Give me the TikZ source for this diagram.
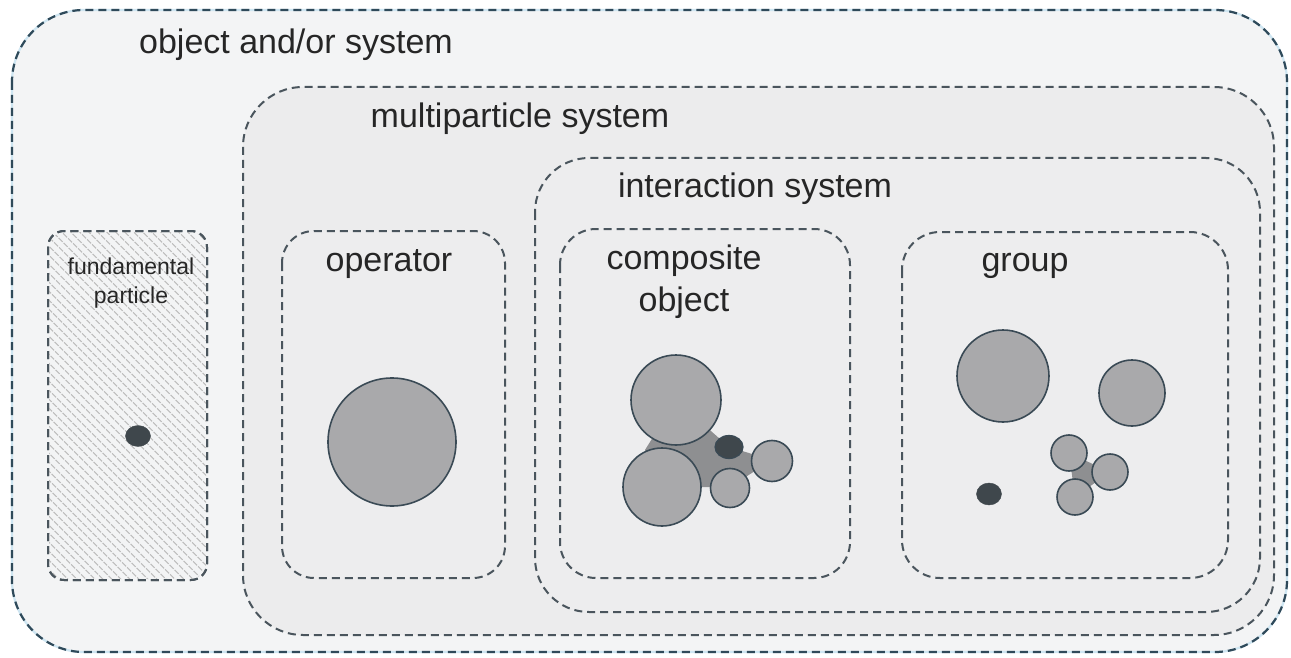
\documentclass[tikz,border=0pt]{standalone}
\usepackage{fontspec}
\setmainfont{Liberation Sans}
\usetikzlibrary{patterns.meta,shapes.geometric}
\definecolor{bgout}{HTML}{F3F4F5}
\definecolor{bgmid}{HTML}{ECECED}
\definecolor{bgin}{HTML}{EDEDEE}
\definecolor{dashc}{HTML}{4A555D}
\definecolor{circfill}{HTML}{A9A9AB}
\definecolor{circline}{HTML}{3A4A55}
\definecolor{darkdot}{HTML}{3F474C}
\definecolor{bridge}{HTML}{8E8F91}
\definecolor{txt}{HTML}{262626}
\definecolor{lblue}{HTML}{CFE6F2}
\definecolor{outerdash}{HTML}{2F4A5A}
\tikzset{
  dbox/.style={draw=dashc, line width=2pt, dash pattern=on 8pt off 5pt},
  ball/.style={circle, draw=circline, line width=1.6pt, fill=circfill, inner sep=0pt},
  dot/.style={ellipse, fill=darkdot, draw=darkdot, inner sep=0pt},
  lbl/.style={text=txt, inner sep=0pt, anchor=base, font=\fontsize{34}{34}\selectfont}
}
\begin{document}
\begin{tikzpicture}[x=1pt,y=-1pt]
\useasboundingbox (0,0) rectangle (1291,658);
\fill[white] (0,0) rectangle (1291,658);
% outer
\draw[fill=bgout, draw=lblue, line width=2.2pt, rounded corners=72pt] (12,10) rectangle (1287,652);
\draw[dbox, draw=outerdash, line width=2.2pt, rounded corners=72pt] (12,10) rectangle (1287,652);
% multiparticle
\draw[dbox, fill=bgmid, rounded corners=60pt] (243,87) rectangle (1274,635);
% interaction
\draw[dbox, fill=bgin, rounded corners=54pt] (535,158) rectangle (1260,612);
% fundamental
\draw[dbox, fill=bgout, rounded corners=16pt] (48,231) rectangle (207,580);
\fill[pattern={Lines[angle=-45,distance=6.5pt,line width=1.3pt]}, pattern color=gray!50, rounded corners=16pt] (49,232) rectangle (206,579);
\draw[dbox, rounded corners=16pt] (48,231) rectangle (207,580);
% operator
\draw[dbox, fill=bgin, rounded corners=32pt] (282,231) rectangle (505,578);
% composite
\draw[dbox, fill=bgin, rounded corners=36pt] (560,229) rectangle (850,578);
% group
\draw[dbox, fill=bgin, rounded corners=38pt] (902,232) rectangle (1228,578);

% labels
\node[lbl] (tobj) at (296,54) {object and/or system};
\node[lbl] (tmulti) at (520,128) {multiparticle system};
\node[lbl] (tinter) at (755,197) {interaction system};
\node[lbl, font=\fontsize{23}{23}\selectfont] (tfund1) at (131,274) {fundamental};
\node[lbl, font=\fontsize{23}{23}\selectfont] (tfund2) at (131,303) {particle};
\node[lbl] (toper) at (389,271) {operator};
\node[lbl] (tcomp1) at (684,269) {composite};
\node[lbl] (tcomp2) at (684,311) {object};
\node[lbl] (tgroup) at (1025,271) {group};

% fundamental particle
\node[dot, minimum width=25pt, minimum height=21pt] (fp) at (138,436) {};
% operator
\node[ball, minimum size=128pt] (op) at (392,442) {};
% composite object
\fill[bridge] (676,400) -- (729,447) -- (772,460) -- (730,487) -- (662,487) -- (645,450) -- cycle;
\node[ball, minimum size=90pt] (c1) at (676,400) {};
\node[ball, minimum size=78pt] (c2) at (662,487) {};
\node[dot, minimum width=28pt, minimum height=23pt, draw=circline, line width=1.2pt] (c3) at (729,447) {};
\node[ball, minimum size=41pt] (c4) at (772,461) {};
\node[ball, minimum size=39pt] (c5) at (730,488) {};
% group
\node[ball, minimum size=92pt] (g1) at (1003,376) {};
\node[ball, minimum size=66pt] (g2) at (1132,393) {};
\fill[bridge] (1069,453) -- (1110,472) -- (1075,497) -- cycle;
\node[ball, minimum size=36pt] (g3) at (1069,453) {};
\node[ball, minimum size=36pt] (g4) at (1110,472) {};
\node[ball, minimum size=36pt] (g5) at (1075,497) {};
\node[dot, minimum width=25pt, minimum height=22pt] (g6) at (989,494) {};
\end{tikzpicture}
\end{document}
